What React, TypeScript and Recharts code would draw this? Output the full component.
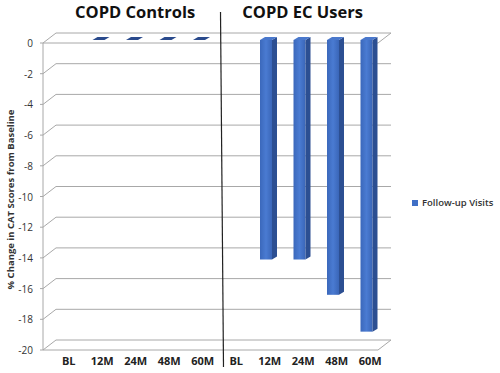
import React from "react"
import { BarChart, Bar, XAxis, YAxis, Legend, Customized, usePlotArea } from "recharts"

const categories = ["BL", "12M", "24M", "48M", "60M", "BL", "12M", "24M", "48M", "60M"]
const groupTitles = ["COPD Controls", "COPD EC Users"]
const changeValues = [null, 0, 0, 0, 0, null, -14.3, -14.3, -16.6, -19.0]
const yTicks = [0, -2, -4, -6, -8, -10, -12, -14, -16, -18, -20]
const seriesName = "Follow-up Visits"
const yLabel = "% Change in CAT Scores  from Baseline"

const data = categories.map((c, i) => ({ idx: i, cat: c, value: changeValues[i] }))

// 3D offsets relative to the bar plane
const FRONT = { dx: -5, dy: 3 }
const BACK = { dx: 8, dy: -7 }
const DEPTH = { dx: 5, dy: -3 }
const GRID = "#a8a8a8"
const FONT = "'Open Sans', sans-serif"

function Bar3D(props: any) {
  const { x, y, width, height } = props
  if (x == null || y == null) return null
  const top = Math.min(y, y + height)
  const h = Math.abs(height)
  const { dx, dy } = DEPTH
  return (
    <g>
      <rect x={x} y={top} width={width} height={h} fill="url(#frontGrad)" />
      <polygon points={`${x + width},${top} ${x + width + dx},${top + dy} ${x + width + dx},${top + h + dy} ${x + width},${top + h}`} fill="#2c4f92" />
      <polygon points={`${x},${top} ${x + dx},${top + dy} ${x + width + dx},${top + dy} ${x + width},${top}`} fill={h < 1 ? "#2a4a8c" : "#4a78cc"} />
    </g>
  )
}

function Frame() {
  const area = usePlotArea()
  if (!area) return null
  const { x: left, y: top, width, height } = area
  const yOf = (v: number) => top + ((0 - v) / 20) * height
  const fx0 = left + FRONT.dx
  const bx0 = left + BACK.dx, bx1 = left + width + BACK.dx
  return (
    <g>
      {yTicks.map(t => {
        const y = yOf(t)
        return (
          <g key={t}>
            <line x1={bx0} y1={y + BACK.dy} x2={bx1} y2={y + BACK.dy} stroke={GRID} strokeWidth={1} />
            <line x1={fx0} y1={y + FRONT.dy} x2={bx0} y2={y + BACK.dy} stroke={GRID} strokeWidth={1} />
          </g>
        )
      })}
      <line x1={fx0} y1={yOf(0) + FRONT.dy} x2={fx0} y2={yOf(-20) + FRONT.dy} stroke={GRID} />
      <text transform={`translate(${left - 34},${top + height / 2 + 6}) rotate(-90)`} textAnchor="middle" fontFamily={FONT} fontWeight="bold" fontSize={9.5} fill="#333">{yLabel}</text>
    </g>
  )
}

function FrontEdges() {
  const area = usePlotArea()
  if (!area) return null
  const { x: left, y: top, width, height } = area
  const yOf = (v: number) => top + ((0 - v) / 20) * height
  const fx0 = left + FRONT.dx, fx1 = left + width + FRONT.dx
  const bx1 = left + width + BACK.dx
  const mid = left + width / 2
  return (
    <g>
      {[0, -20].map(t => (
        <g key={t}>
          <line x1={fx0} y1={yOf(t) + FRONT.dy} x2={fx1} y2={yOf(t) + FRONT.dy} stroke={GRID} />
          <line x1={fx1} y1={yOf(t) + FRONT.dy} x2={bx1} y2={yOf(t) + BACK.dy} stroke={GRID} />
        </g>
      ))}
      <line x1={mid + 5} y1={12} x2={mid + 8} y2={367} stroke="#222" strokeWidth={1.2} />
      {groupTitles.map((g, i) => (
        <text key={g} x={left + width * (0.26 + i * 0.5)} y={18} textAnchor="middle" fontFamily={FONT} fontWeight="bold" fontSize={16.5} fill="#111">{g}</text>
      ))}
    </g>
  )
}

function YTick(props: any) {
  const { y, payload } = props
  const left = 48
  const yy = y + FRONT.dy
  return (
    <g>
      <line x1={left + FRONT.dx - 3} y1={yy} x2={left + FRONT.dx} y2={yy} stroke={GRID} />
      <text x={left - 15} y={yy + 4} textAnchor="end" fontFamily={FONT} fontSize={10} fill="#333">{payload.value}</text>
    </g>
  )
}

function XTick(props: any) {
  const { x, y, payload } = props
  return (
    <text x={x + 4} y={y + 10} textAnchor="middle" fontFamily={FONT} fontWeight="bold" fontSize={11} fill="#222">
      {categories[payload.value]}
    </text>
  )
}

function LegendContent() {
  return (
    <div style={{ display: "flex", alignItems: "center", gap: 4, fontFamily: FONT, fontSize: 9.5, fontWeight: 600, color: "#333", whiteSpace: "nowrap" }}>
      <span style={{ width: 6, height: 6, background: "#3f6fc6", display: "inline-block" }} />
      <span>{seriesName}</span>
    </div>
  )
}

export default function App() {
  return (
    <div style={{ position: "absolute", left: 0, top: 0, width: 500, height: 373, background: "#fff" }}>
      <BarChart width={500} height={373} data={data} margin={{ top: 40, right: 117, bottom: 0, left: 8 }} barSize={12}>
        <defs>
          <linearGradient id="frontGrad" x1="0" y1="0" x2="1" y2="0">
            <stop offset="0%" stopColor="#3b68bb" />
            <stop offset="50%" stopColor="#4a7bd2" />
            <stop offset="100%" stopColor="#3a66b8" />
          </linearGradient>
        </defs>
        <Customized component={<Frame />} />
        <XAxis dataKey="idx" type="category" axisLine={false} tickLine={false} tick={<XTick />} height={26} interval={0} />
        <YAxis domain={[-20, 0]} ticks={yTicks} axisLine={false} tickLine={false} tick={<YTick />} width={40} interval={0} />
        <Bar dataKey="value" name={seriesName} shape={<Bar3D />} isAnimationActive={false} />
        <Customized component={<FrontEdges />} />
        <Legend layout="vertical" align="center" verticalAlign="middle" content={<LegendContent />} wrapperStyle={{ left: 412, top: 196, width: 88 }} />
      </BarChart>
    </div>
  )
}
